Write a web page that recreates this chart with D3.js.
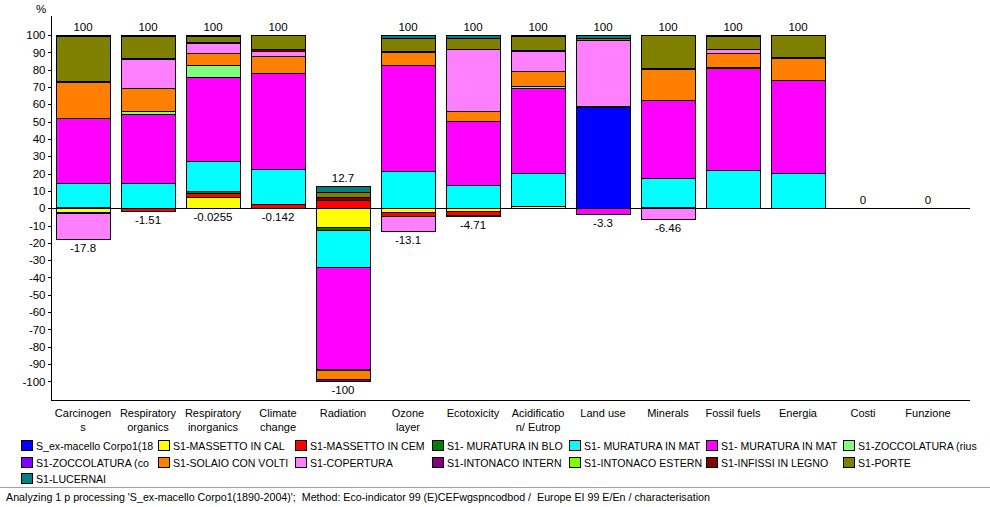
<!DOCTYPE html>
<html><head><meta charset="utf-8">
<script src="https://cdn.jsdelivr.net/npm/d3@7"></script>
<style>
html,body{margin:0;padding:0;background:#fff;}
svg{display:block;font-family:"Liberation Sans",Arial,sans-serif;}
text{fill:#000;}
</style></head>
<body>
<svg id="chart" width="990" height="507"></svg>
<script>
// ---------- DATA ----------
const categories = ["Carcinogens","Respiratory organics","Respiratory inorganics","Climate change","Radiation","Ozone layer","Ecotoxicity","Acidification/ Eutrophication","Land use","Minerals","Fossil fuels","Energia","Costi","Funzione"];
const categoryLabels = [["Carcinogen","s"],["Respiratory","organics"],["Respiratory","inorganics"],["Climate","change"],["Radiation"],["Ozone","layer"],["Ecotoxicity"],["Acidificatio","n/ Eutrop"],["Land use"],["Minerals"],["Fossil fuels"],["Energia"],["Costi"],["Funzione"]];
const seriesNames = ["S_ex-macello Corpo1(1890-2004)","S1-MASSETTO IN CALCESTRUZZO","S1-MASSETTO IN CEMENTO","S1- MURATURA IN BLOCCHI","S1- MURATURA IN MATTONI PIENI","S1- MURATURA IN MATTONI FORATI","S1-ZOCCOLATURA (riuso)","S1-ZOCCOLATURA (completa)","S1-SOLAIO CON VOLTINE","S1-COPERTURA","S1-INTONACO INTERNO","S1-INTONACO ESTERNO","S1-INFISSI IN LEGNO","S1-PORTE","S1-LUCERNAI"];
const seriesColors = ["#0000FF","#FFFF00","#FF0000","#008000","#00FFFF","#FF00FF","#80FF80","#8000FF","#FF8000","#FF80FF","#800080","#80FF00","#800000","#808000","#008080"];
const sExMacello   = [0,0,-0.0255,0,0,0,0,0,58.3,0,0,0,0,0];
const sMassCalc    = [-2.0,0,6.2,-0.142,-11.0,-2.0,-1.5,1.0,0,0,0,0,0,0];
const sMassCem     = [0.6,-1.51,2.4,2.3,4.8,-2.4,-2.6,0,0,0,0,0,0,0];
const sMurBlo      = [-0.6,0,1.6,0,-1.6,0,0,0.5,0,0.9,0,0,0,0];
const sMurMat1     = [14.0,14.5,17.3,20.2,-21.6,21.7,13.3,18.7,0,16.4,21.9,20.2,0,0];
const sMurMat2     = [37.5,40.1,48.4,55.4,-58.4,61.2,36.9,49.0,-3.3,45.0,58.9,53.7,0,0];
const sZoccRiuso   = [0,1.4,7.0,0,0,0,0,1.3,0,0,0.7,0,0,0];
const sZoccCom     = [0,0,0,0,-0.8,0,0,0,0,0,0,0,0,0];
const sSolaio      = [20.8,13.6,6.9,9.8,-5.3,7.1,5.8,8.5,0.7,17.9,7.9,12.7,0,0];
const sCopertura   = [-15.2,16.4,5.7,3.2,0,-8.7,35.7,11.9,38.3,-6.46,2.7,0,0,0];
const sIntInterno  = [0,0,0,0,-1.3,0,-0.61,0,0,0,0,0,0,0];
const sIntEsterno  = [0,0,0,0,0,0,0,0,0,0,0,0,0,0];
const sInfissi     = [0.8,0.8,0.5,0.8,1.5,0.6,0.5,0.6,0,0.8,0,0.7,0,0];
const sPorte       = [26.0,12.9,3.6,8.3,2.8,7.9,6.2,8.0,1.0,19.0,7.1,12.7,0,0];
const sLucernai    = [0.3,0.3,0.4,0,3.6,1.5,1.6,0.5,1.7,0,0.8,0,0,0];
const seriesValues = [sExMacello,sMassCalc,sMassCem,sMurBlo,sMurMat1,sMurMat2,sZoccRiuso,sZoccCom,sSolaio,sCopertura,sIntInterno,sIntEsterno,sInfissi,sPorte,sLucernai];
const yTicks = d3.range(-100,101,10);
const footerText = "Analyzing 1 p processing 'S_ex-macello Corpo1(1890-2004)';  Method: Eco-indicator 99 (E)CEFwgspncodbod /  Europe EI 99 E/En / characterisation";

// ---------- LAYOUT ----------
const svg = d3.select("#chart");
const pLeft = 51, pRight = 970, pTop = 16, pBottom = 400;
const x = d3.scaleBand().domain(categories).range([50.5, 50.5 + 65*14]).paddingInner(11/65).paddingOuter(5.5/65);
const y = d3.scaleLinear().domain([-110.76, 111.0]).range([pBottom, pTop]);
const loc = d3.formatLocale({decimal:".",thousands:",",grouping:[3],currency:["",""],minus:"-"});
const fmt = loc.format(".3~g");
const px = v => Math.round(v);

// bars
const g = svg.append("g");
categories.forEach((c,ci)=>{
  let pos=0, neg=0;
  seriesValues.forEach((vals,si)=>{
    const v = vals[ci];
    if(v===0) return;
    let y0,y1;
    if(v>0){ y0=pos; y1=pos+v; pos=y1; } else { y0=neg; y1=neg+v; neg=y1; }
    const yA = px(y(Math.max(y0,y1))), yB = px(y(Math.min(y0,y1)));
    g.append("rect")
      .attr("x", px(x(c))+0.5).attr("y", yA+0.5)
      .attr("width", px(x.bandwidth())).attr("height", Math.max(0,yB-yA))
      .attr("fill", seriesColors[si]).attr("stroke","#000").attr("stroke-width",1)
      .attr("shape-rendering","crispEdges");
  });
  const cx = x(c)+x.bandwidth()/2;
  if(pos>0 || neg===0){
    svg.append("text").attr("x",cx).attr("y",y(pos)-4).attr("text-anchor","middle")
      .attr("font-size",11.5).text(fmt(pos));
  }
  if(neg<0){
    svg.append("text").attr("x",cx).attr("y",y(neg)+13).attr("text-anchor","middle")
      .attr("font-size",11.5).text(fmt(neg));
  }
});

// zero line
svg.append("line").attr("x1",pLeft).attr("x2",pRight).attr("y1",px(y(0))+0.5).attr("y2",px(y(0))+0.5)
  .attr("stroke","#000").attr("shape-rendering","crispEdges");

// y axis
const yAxis = d3.axisLeft(y).tickValues(yTicks).tickSize(4).tickPadding(2).tickFormat(d=>loc.format("d")(d));
const yg = svg.append("g").attr("transform",`translate(${pLeft+0.5},0)`).call(yAxis);
yg.select(".domain").remove();
yg.selectAll("text").attr("font-size",11.5).attr("font-family","'Liberation Sans',Arial,sans-serif").attr("fill","#000");
yg.selectAll("line").attr("shape-rendering","crispEdges");
svg.append("line").attr("x1",pLeft+0.5).attr("x2",pLeft+0.5).attr("y1",pTop).attr("y2",pBottom+0.5).attr("stroke","#000").attr("shape-rendering","crispEdges");
svg.append("line").attr("x1",pLeft).attr("x2",pRight).attr("y1",pBottom+0.5).attr("y2",pBottom+0.5).attr("stroke","#000").attr("shape-rendering","crispEdges");
svg.append("text").attr("x",41).attr("y",13).attr("text-anchor","middle").attr("font-size",11.5).text("%");

// category labels
categories.forEach((c,ci)=>{
  const cx = x(c)+x.bandwidth()/2;
  categoryLabels[ci].forEach((line,li)=>{
    svg.append("text").attr("x",cx).attr("y",417+li*14).attr("text-anchor","middle")
      .attr("font-size",11).text(line);
  });
});

// legend (names cut to the column width, as in the reference)
const colW = 137, textW = 119;
seriesNames.forEach((name,i)=>{
  const col = i%7, row = Math.floor(i/7);
  const lx = 21 + col*colW, ly = 440 + row*16.5;
  svg.append("rect").attr("x",Math.round(lx)+0.5).attr("y",Math.round(ly)+0.5).attr("width",11).attr("height",10)
    .attr("fill",seriesColors[i]).attr("stroke","#000").attr("shape-rendering","crispEdges");
  const t = svg.append("text").attr("x",lx+15).attr("y",ly+10).attr("font-size",10.6).text(name);
  let s = name;
  while(s.length>1 && t.node().getComputedTextLength()>textW){
    s = s.slice(0,-1); t.text(s);
  }
});

// footer
svg.append("line").attr("x1",0).attr("x2",990).attr("y1",487.5).attr("y2",487.5).attr("stroke","#a0a0a0");
svg.append("text").attr("x",6).attr("y",501).attr("font-size",10.7).style("white-space","pre").text(footerText);
</script>
</body></html>
